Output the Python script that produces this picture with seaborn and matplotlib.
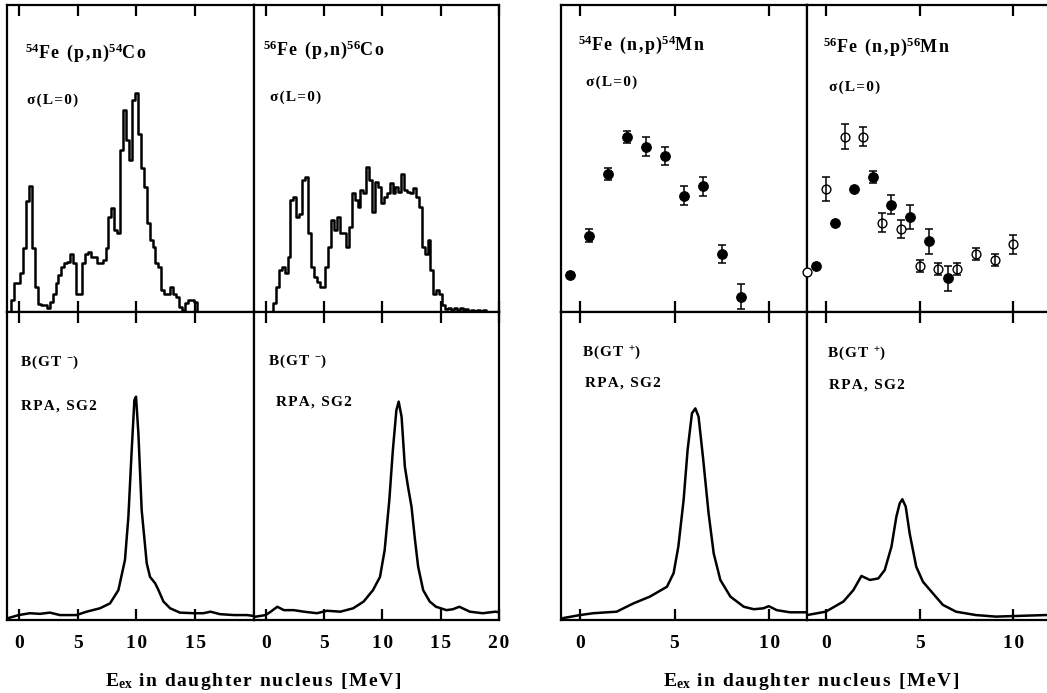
import numpy as np
import pandas as pd
import matplotlib
matplotlib.use("Agg")
import matplotlib.pyplot as plt
import seaborn as sns

# ---------------- data (arbitrary units, 0-100 per panel) ----------------
# 54Fe(p,n)54Co measured spectrum, bins of 0.25 MeV starting at -0.75 MeV
pn54_start = -0.75
pn54_counts = [0, 3.9, 9.3, 9.3, 12.6, 21, 36, 41, 21, 8, 2.6, 2.3, 2.3, 1.2, 3.4, 6,
               9.3, 12, 14.8, 15.9, 16.4, 19, 15.9, 6, 6, 15.9, 19, 19.7, 18, 18, 15.9,
               15.9, 17, 21, 31, 34, 26.7, 25.6, 52.8, 65.8, 56, 49.5, 69, 71.2, 58, 47,
               40.8, 28.9, 23.5, 21.3, 15.9, 14.8, 7.2, 6, 6, 8.3, 6, 5, 1.7, 0.7, 2.8,
               3.9, 3.9, 3.4, 0]
# 56Fe(p,n)56Co measured spectrum, bins of 0.25 MeV starting at 0.5 MeV
pn56_start = 0.5
pn56_counts = [0, 2.8, 8.3, 13.7, 14.8, 12.6, 18, 36.5, 37.6, 31, 32, 43, 44, 25.6, 14.8,
               11.5, 9.9, 8.3, 8.3, 14.8, 21.3, 30, 26.7, 31, 25.6, 25.6, 21.3, 27.8,
               38.7, 36.5, 34.3, 39.7, 38.7, 47.3, 43, 32.7, 42.5, 40.8, 35.4, 37.6, 38.7,
               42, 38.7, 40.8, 39.2, 45, 39.7, 39.2, 38.7, 40.3, 37.6, 34.3, 21.3, 19,
               23.5, 13.7, 6, 7.2, 6, 2.3, 0.9, 1.2, 0.7, 1.2, 0.7, 1.2, 0.7, 0.9, 0.4,
               0.7, 0.4, 0.7, 0.4, 0.7, 0]
bin_width = 0.25

# 54Fe(n,p)54Mn sigma(L=0)
np54_E = [-0.5, 0.5, 1.5, 2.5, 3.5, 4.5, 5.5, 6.5, 7.5, 8.5]
np54_sig = [12.1, 24.9, 45.0, 57.1, 53.9, 50.9, 37.9, 40.9, 18.9, 5.0]
np54_err = [0, 2, 2, 2, 3, 3, 3, 3.1, 3, 4]

# 56Fe(n,p)56Mn sigma(L=0): filled and open data sets
np56f_E = [-0.5, 0.5, 1.5, 2.5, 3.5, 4.5, 5.5, 6.5]
np56f_sig = [15.0, 29.1, 40.0, 43.9, 35.0, 30.9, 23.0, 11.0]
np56f_err = [0, 0, 0, 2, 3, 4, 4, 4]
np56o_E = [-1, 0, 1, 2, 3, 4, 5, 6, 7, 8, 9, 10]
np56o_sig = [13.1, 40.0, 57.1, 57.1, 29.1, 27.0, 15.0, 13.9, 13.9, 18.9, 16.9, 22.0]
np56o_err = [0, 4, 4, 3, 3, 3, 2, 2, 2, 2, 2, 3]

# RPA SG2 B(GT) strength curves
gtm54_E = [-1.0, 0, 0.94, 1.8, 2.65, 3.5, 4.9, 5.77, 6.9, 7.76, 8.47, 9.03, 9.32, 9.6,
           9.83, 9.97, 10.17, 10.45, 10.88, 11.16, 11.6, 11.88, 12.3, 12.87, 13.7, 14.9,
           15.7, 16.3, 17.1, 18.3, 19.4, 20.0]
gtm54_B = [0.5, 1.6, 2.2, 2.0, 2.4, 1.6, 1.6, 2.7, 3.8, 5.4, 9.7, 19.5, 33.5, 55, 71.4,
           72.5, 60.6, 35.7, 18.4, 14, 11.9, 9.7, 6, 3.8, 2.4, 2.2, 2.2, 2.7, 1.9, 1.6,
           1.6, 1.3]
gtm56_E = [-1.0, 0, 0.43, 1.0, 1.56, 2.41, 3.27, 4.4, 5.26, 6.4, 7.5, 8.4, 9.2, 9.8,
           10.2, 10.6, 10.9, 11.2, 11.4, 11.65, 11.93, 12.2, 12.5, 12.8, 13.07, 13.5,
           14.06, 14.6, 15.5, 16.05, 16.6, 17.5, 18.6, 19.7, 20]
gtm56_B = [1.0, 1.6, 2.7, 4.3, 3.2, 3.2, 2.7, 2.2, 3.0, 2.7, 3.8, 6, 9.7, 14, 22.7, 39,
           55, 68, 70.9, 66, 49.8, 43.3, 36.8, 26, 17.3, 9.7, 6, 4.3, 3.2, 3.5, 4.3, 2.7,
           2.2, 2.7, 2.5]
gtp54_E = [-1.0, 0, 0.7, 1.94, 2.83, 3.7, 4.6, 4.95, 5.2, 5.48, 5.69, 5.92, 6.1, 6.27,
           6.5, 6.8, 7.07, 7.42, 7.95, 8.66, 9.19, 9.7, 9.98, 10.4, 11.1, 12.0]
gtp54_B = [0.5, 1.6, 2.2, 2.7, 5.4, 7.6, 10.8, 15.2, 23.8, 39, 55.2, 67.1, 68.7, 66, 53,
           34.6, 21.6, 13, 7.6, 4.3, 3.5, 3.8, 4.5, 3.2, 2.5, 2.5]
gtp56_E = [-1.0, 0, 0.94, 1.47, 1.9, 2.35, 2.8, 3.14, 3.5, 3.76, 3.94, 4.08, 4.26, 4.47,
           4.82, 5.18, 5.7, 6.24, 6.94, 8.0, 9.06, 10.1, 11.7, 12]
gtp56_B = [1.6, 2.7, 6, 9.7, 14.3, 13, 13.5, 16.2, 23.8, 33.5, 37.9, 39.2, 36.8, 28.1,
           17.3, 12.4, 8.7, 4.9, 2.7, 1.6, 1.1, 1.3, 1.6, 1.6]

xticks_left1 = [0, 5, 10, 15]
xticks_left2 = [0, 5, 10, 15, 20]
xticks_right = [0, 5, 10]
xlabel_text = r"E$_{ex}$ in daughter nucleus [MeV]"

# ---------------- style ----------------
sns.set_theme(style="white")
plt.rcParams["font.family"] = ["Liberation Serif", "DejaVu Serif"]
plt.rcParams["font.weight"] = "bold"
plt.rcParams["mathtext.fontset"] = "custom"
plt.rcParams["mathtext.rm"] = "Liberation Serif:bold"
plt.rcParams["mathtext.it"] = "Liberation Serif:bold"
plt.rcParams["mathtext.bf"] = "Liberation Serif:bold"
plt.rcParams["axes.edgecolor"] = "black"
plt.rcParams["axes.linewidth"] = 1.6
plt.rcParams["text.color"] = "black"
plt.rcParams["xtick.color"] = "black"
plt.rcParams["xtick.labelcolor"] = "black"

HS = "\u200a"  # hair space used to imitate the wide letter spacing


def spaced(s):
    parts = s.split("$")
    out = []
    for i, p in enumerate(parts):
        out.append(HS.join(p) if i % 2 == 0 else p)
    return "$".join(out)


W, H = 1047, 693
fig = plt.figure(figsize=(W / 100, H / 100), dpi=100)


def rect(x0, x1, y0, y1):
    return [x0 / W, 1 - y1 / H, (x1 - x0) / W, (y1 - y0) / H]


cols = [(7, 254), (254, 499), (561, 807), (807, 1051)]
rows = [(5, 312), (312, 620)]
xlims = [(-1, 20), (-1, 20), (-1, 12), (-1, 12)]
ticks = [xticks_left1, xticks_left2, xticks_right, xticks_right]

axes = {}
for r, (y0, y1) in enumerate(rows):
    for c, (x0, x1) in enumerate(cols):
        ax = fig.add_axes(rect(x0, x1, y0, y1))
        axes[(r, c)] = ax

LW = 1.8


def style(ax, r, c):
    ax.set_xlim(*xlims[c])
    ax.set_ylim(0, 100)
    ax.set_xticks(ticks[c])
    ax.set_xticklabels([spaced(str(t)) for t in ticks[c]])
    ax.set_yticks([])
    ax.set_xlabel("")
    ax.set_ylabel("")
    ax.tick_params(axis="x", direction="in", top=True, bottom=True, length=8,
                   width=1.6, color="black", labelcolor="black", labelsize=14,
                   pad=11, labelbottom=(r == 1), labeltop=False)
    for sp in ax.spines.values():
        sp.set_visible(True)
        sp.set_color("black")
        sp.set_linewidth(1.6)


def hist(ax, start, counts):
    counts = np.asarray(counts, dtype=float)
    centers = start + bin_width * np.arange(len(counts))
    df = pd.DataFrame({"E": centers, "w": counts})
    lo = centers[0] - bin_width / 2
    hi = centers[-1] + bin_width / 2
    sns.histplot(data=df, x="E", weights="w", binwidth=bin_width, binrange=(lo, hi),
                 element="step", fill=False, color="black", linewidth=LW, ax=ax)


def points(ax, E, sig, err, filled):
    E, sig, err = map(lambda a: np.asarray(a, dtype=float), (E, sig, err))
    if filled:
        sns.scatterplot(x=E, y=sig, color="black", edgecolor="black", s=48,
                        linewidth=0.8, ax=ax, zorder=3, clip_on=False, legend=False)
    else:
        sns.scatterplot(x=E, y=sig, color="white", edgecolor="black", s=40,
                        linewidth=1.0, ax=ax, zorder=3, clip_on=False, legend=False)
    m = err > 0
    ax.errorbar(E[m], sig[m], yerr=err[m], fmt="none", ecolor="black",
                elinewidth=1.1, capsize=2.6, capthick=1.1, zorder=4)


def curve(ax, E, B):
    sns.lineplot(x=E, y=B, color="black", linewidth=LW, sort=False, ax=ax)


# top row
hist(axes[(0, 0)], pn54_start, pn54_counts)
hist(axes[(0, 1)], pn56_start, pn56_counts)
points(axes[(0, 2)], np54_E, np54_sig, np54_err, True)
points(axes[(0, 3)], np56f_E, np56f_sig, np56f_err, True)
points(axes[(0, 3)], np56o_E, np56o_sig, np56o_err, False)
# bottom row
curve(axes[(1, 0)], gtm54_E, gtm54_B)
curve(axes[(1, 1)], gtm56_E, gtm56_B)
curve(axes[(1, 2)], gtp54_E, gtp54_B)
curve(axes[(1, 3)], gtp56_E, gtp56_B)

for (r, c), ax in axes.items():
    style(ax, r, c)

# labels inside panels
titles = [r"$^{54}$Fe (p,n)$^{54}$Co", r"$^{56}$Fe (p,n)$^{56}$Co",
          r"$^{54}$Fe (n,p)$^{54}$Mn", r"$^{56}$Fe (n,p)$^{56}$Mn"]
title_pos = [(0.073, 0.844), (0.037, 0.853), (0.069, 0.870), (0.066, 0.863)]
sig_pos = [(0.081, 0.690), (0.065, 0.700), (0.100, 0.749), (0.090, 0.733)]
for c in range(4):
    ax = axes[(0, c)]
    ax.text(*title_pos[c], spaced(titles[c]), transform=ax.transAxes, fontsize=13,
            ha="left", va="center", color="black")
    ax.text(*sig_pos[c], spaced("σ(L=0)"), transform=ax.transAxes, fontsize=11,
            ha="left", va="center", color="black")

gt_labels = [r"B(GT $^{-}$)", r"B(GT $^{-}$)", r"B(GT $^{+}$)", r"B(GT $^{+}$)"]
gt_pos = [(0.053, 0.838), (0.057, 0.841), (0.085, 0.870), (0.082, 0.867)]
rpa_pos = [(0.057, 0.695), (0.090, 0.708), (0.098, 0.769), (0.090, 0.763)]
for c in range(4):
    ax = axes[(1, c)]
    ax.text(*gt_pos[c], spaced(gt_labels[c]), transform=ax.transAxes, fontsize=11,
            ha="left", va="center", color="black")
    ax.text(*rpa_pos[c], spaced("RPA, SG2"), transform=ax.transAxes, fontsize=11,
            ha="left", va="center", color="black")

fig.text(253 / W, 1 - 682 / H, spaced(xlabel_text), ha="center", va="center",
         fontsize=14, color="black")
fig.text(811 / W, 1 - 682 / H, spaced(xlabel_text), ha="center", va="center",
         fontsize=14, color="black")

fig.savefig("out.png", dpi=100, facecolor="white")
